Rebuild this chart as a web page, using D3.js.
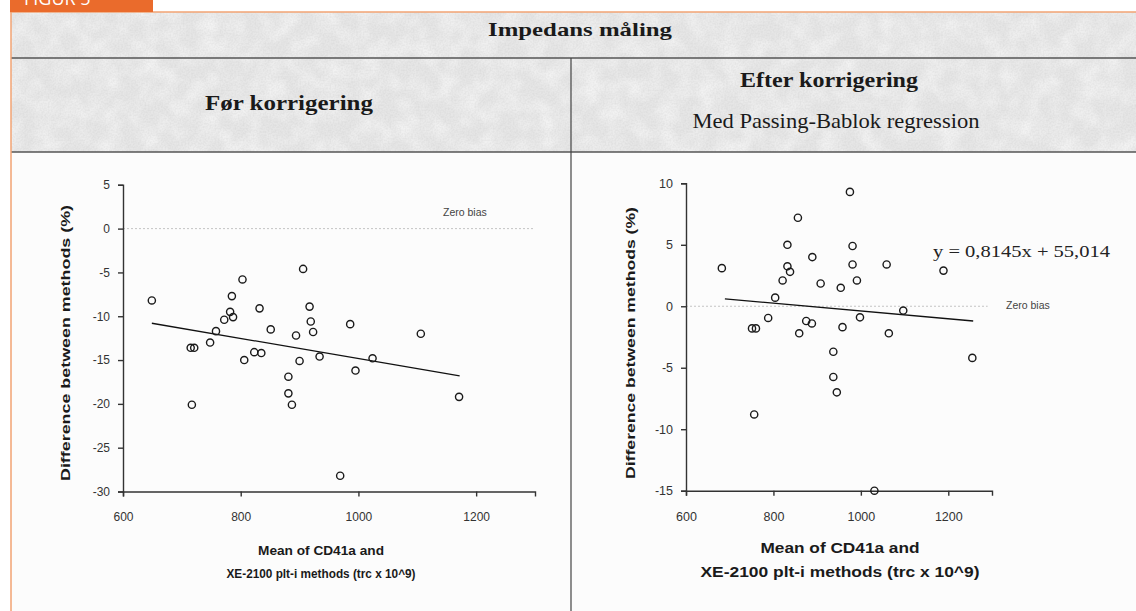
<!DOCTYPE html>
<html>
<head>
<meta charset="UTF-8">
<title>Impedans måling</title>
<script src="https://cdnjs.cloudflare.com/ajax/libs/d3/7.9.0/d3.min.js"></script>
<style>
    body { margin: 0; background: #fff; }
    svg { display: block; }
    .tick text { font-family: "Liberation Sans", Arial, sans-serif; font-size: 12px; fill: #333; }
    .axis path, .axis line { stroke: #333; stroke-width: 1.4; }
</style>
</head>
<body>
<div id="chart"></div>
<script>
// ---- data ----
// left panel: før korrigering
const leftX = [649, 715, 721, 717, 748, 758, 772, 782, 785, 787, 803, 806, 823, 832, 835, 851,
               881, 881, 887, 894, 900, 906, 917, 919, 923, 934, 969, 986, 995, 1024, 1106, 1171];
const leftY = [-8.2, -13.6, -13.6, -20.1, -13.0, -11.7, -10.4, -9.5, -7.7, -10.1, -5.8, -15.0, -14.1, -9.1, -14.2, -11.5,
               -16.9, -18.8, -20.1, -12.2, -15.1, -4.6, -8.9, -10.6, -11.8, -14.6, -28.2, -10.9, -16.2, -14.8, -12.0, -19.2];
const leftFitX = [649, 1172];
const leftFitY = [-10.8, -16.8];
const leftYTicks = [5, 0, -5, -10, -15, -20, -25, -30];

// right panel: efter korrigering
const rightX = [975, 856, 832, 981, 889, 682, 832, 981, 1059, 838, 821, 991, 908, 954, 804, 1189,
                1097, 788, 998, 751, 760, 875, 888, 958, 859, 1064, 937, 937, 945, 756, 1031, 1255];
const rightY = [9.3, 7.2, 5.0, 4.9, 4.0, 3.1, 3.25, 3.4, 3.4, 2.8, 2.1, 2.1, 1.85, 1.5, 0.7, 2.9,
                -0.35, -0.95, -0.9, -1.8, -1.8, -1.2, -1.4, -1.7, -2.2, -2.2, -3.7, -5.75, -7.0, -8.8, -15.0, -4.2];
const rightFitX = [689, 1257];
const rightFitY = [0.6, -1.2];
const rightYTicks = [10, 5, 0, -5, -10, -15];

const xTicks = [600, 800, 1000, 1200];
const yLabel = "Difference between methods (%)";
const xLabel1 = "Mean of CD41a and";
const xLabel2 = "XE-2100 plt-i methods (trc x 10^9)";

// ---- svg ----
const W = 1136, H = 611;
const svg = d3.select("#chart").append("svg")
    .attr("width", W)
    .attr("height", H);

// scanned paper texture
const defs = svg.append("defs");
const flt = defs.append("filter").attr("id", "paper").attr("x", 0).attr("y", 0).attr("width", 1).attr("height", 1);
flt.append("feTurbulence").attr("type", "fractalNoise").attr("baseFrequency", "0.05").attr("numOctaves", 2).attr("seed", 7);
flt.append("feColorMatrix").attr("type", "matrix")
    .attr("values", "0 0 0 0 1  0 0 0 0 1  0 0 0 0 1  1.1 0 0 0 -0.4");
const fltB = defs.append("filter").attr("id", "paperB").attr("x", 0).attr("y", 0).attr("width", 1).attr("height", 1);
fltB.append("feTurbulence").attr("type", "fractalNoise").attr("baseFrequency", "0.6").attr("numOctaves", 1).attr("seed", 2);
fltB.append("feColorMatrix").attr("type", "matrix")
    .attr("values", "0 0 0 0 0.45  0 0 0 0 0.45  0 0 0 0 0.45  0.4 0 0 0 -0.14");

// header bands
svg.append("rect").attr("x", 11).attr("y", 12).attr("width", W - 11).attr("height", 140).attr("fill", "#e6e6e6");
svg.append("rect").attr("x", 11).attr("y", 12).attr("width", W - 11).attr("height", 140).attr("fill", "#fff").attr("filter", "url(#paper)");
svg.append("rect").attr("x", 11).attr("y", 12).attr("width", W - 11).attr("height", 140).attr("fill", "#fff").attr("filter", "url(#paperB)");
svg.append("rect").attr("x", 11).attr("y", 153).attr("width", W - 11).attr("height", H - 153).attr("fill", "#fcfcfc");

// rules
svg.append("line").attr("x1", 11).attr("x2", W).attr("y1", 58).attr("y2", 58).attr("stroke", "#555").attr("stroke-width", 1.6);
svg.append("line").attr("x1", 11).attr("x2", W).attr("y1", 152).attr("y2", 152).attr("stroke", "#555").attr("stroke-width", 1.6);
svg.append("line").attr("x1", 571).attr("x2", 571).attr("y1", 58).attr("y2", H).attr("stroke", "#444").attr("stroke-width", 1.2);

// orange frame and tag
svg.append("line").attr("x1", 10).attr("x2", W).attr("y1", 12).attr("y2", 12).attr("stroke", "#f2a373").attr("stroke-width", 1.5);
svg.append("line").attr("x1", 11).attr("x2", 11).attr("y1", 12).attr("y2", H).attr("stroke", "#f2a373").attr("stroke-width", 1.5);
svg.append("rect").attr("x", 10).attr("y", 0).attr("width", 143).attr("height", 12).attr("fill", "#ea6b2c");
svg.append("text").attr("x", 24).attr("y", 5)
    .style("font-family", "'Open Sans', sans-serif").style("font-size", "18px").attr("fill", "#fff")
    .text("FIGUR 5");

// headings
const serif = "'Liberation Serif', 'Times New Roman', serif";
function heading(txt, x, y, size, bold, len) {
    svg.append("text").attr("x", x).attr("y", y).attr("text-anchor", "middle")
        .style("font-family", serif).style("font-size", size + "px")
        .style("font-weight", bold ? "bold" : "normal").attr("fill", "#1a1a1a")
        .attr("textLength", len).attr("lengthAdjust", "spacingAndGlyphs")
        .text(txt);
}
heading("Impedans måling", 580, 36, 19, true, 184);
heading("Før korrigering", 289, 110, 21, true, 168);
heading("Efter korrigering", 829, 87, 21, true, 178);
heading("Med Passing-Bablok regression", 836, 128, 21, false, 287);

// ---- panels ----
function panel(opt) {
    const x = d3.scaleLinear().domain([600, 1300]).range(opt.xr);
    const y = d3.scaleLinear().domain(opt.yd).range(opt.yr);
    const g = svg.append("g");

    // zero bias reference
    g.append("line")
        .attr("x1", x(600)).attr("x2", x(opt.zeroEnd))
        .attr("y1", y(0)).attr("y2", y(0))
        .attr("stroke", "#c4c4c4").attr("stroke-width", 1).attr("stroke-dasharray", "2,2");
    g.append("text").attr("x", opt.zeroLbl[0]).attr("y", opt.zeroLbl[1])
        .style("font-family", "'Liberation Sans', Arial, sans-serif").style("font-size", "10.5px")
        .attr("fill", "#444").text("Zero bias");

    // axes (plain hyphen minus, like the original)
    g.append("g").attr("class", "axis")
        .attr("transform", "translate(0," + opt.yr[0] + ")")
        .call(d3.axisBottom(x).tickValues(xTicks).tickFormat(d => String(d)).tickSizeOuter(0).tickSize(5).tickPadding(16));
    g.append("g").attr("class", "axis")
        .attr("transform", "translate(" + opt.xr[0] + ",0)")
        .call(d3.axisLeft(y).tickValues(opt.yTicks).tickFormat(d => String(d)).tickSizeOuter(0).tickSize(5).tickPadding(8));
    g.selectAll(".axis .domain").attr("stroke", "#333").attr("stroke-width", 1.5);
    g.selectAll(".tick text").style("font-size", opt.tickFont + "px");

    // fit line
    g.append("path")
        .datum(d3.range(opt.fitX.length))
        .attr("d", d3.line().x(i => x(opt.fitX[i])).y(i => y(opt.fitY[i])))
        .attr("fill", "none").attr("stroke", "#111").attr("stroke-width", 1.3);

    // points
    g.selectAll("circle.pt").data(d3.range(opt.px.length)).join("circle")
        .attr("class", "pt")
        .attr("cx", i => x(opt.px[i]))
        .attr("cy", i => y(opt.py[i]))
        .attr("r", 3.6)
        .attr("fill", "none").attr("stroke", "#1a1a1a").attr("stroke-width", 1.4);

    // axis titles
    const sans = "'Liberation Sans', Arial, sans-serif";
    g.append("text")
        .attr("transform", "translate(" + opt.yLblX + "," + opt.yLblY + ") rotate(-90)")
        .attr("text-anchor", "middle")
        .style("font-family", sans).style("font-weight", "bold").style("font-size", "13px")
        .attr("fill", "#1a1a1a").attr("textLength", opt.yLblLen).attr("lengthAdjust", "spacingAndGlyphs")
        .text(yLabel);
    g.append("text").attr("x", opt.xLblX).attr("y", opt.xLblY[0]).attr("text-anchor", "middle")
        .style("font-family", sans).style("font-weight", "bold").style("font-size", opt.xLblFont + "px")
        .attr("fill", "#1a1a1a").attr("textLength", opt.xLblLen[0]).attr("lengthAdjust", "spacingAndGlyphs")
        .text(xLabel1);
    g.append("text").attr("x", opt.xLblX).attr("y", opt.xLblY[1]).attr("text-anchor", "middle")
        .style("font-family", sans).style("font-weight", "bold").style("font-size", opt.xLblFont + "px")
        .attr("fill", "#1a1a1a").attr("textLength", opt.xLblLen[1]).attr("lengthAdjust", "spacingAndGlyphs")
        .text(xLabel2);
    return g;
}

panel({
    xr: [123, 535], yd: [-30, 5], yr: [491.5, 184.8],
    yTicks: leftYTicks, px: leftX, py: leftY, fitX: leftFitX, fitY: leftFitY,
    zeroEnd: 1300, zeroLbl: [443, 216], tickFont: 12,
    yLblX: 70, yLblY: 343, yLblLen: 276,
    xLblX: 321, xLblY: [555, 578], xLblLen: [126, 189], xLblFont: 13
});

const right = panel({
    xr: [686, 992], yd: [-15, 10], yr: [490.7, 183.3],
    yTicks: rightYTicks, px: rightX, py: rightY, fitX: rightFitX, fitY: rightFitY,
    zeroEnd: 1290, zeroLbl: [1006, 309], tickFont: 12.5,
    yLblX: 635, yLblY: 343, yLblLen: 272,
    xLblX: 840, xLblY: [553, 577], xLblLen: [159, 279], xLblFont: 14
});

// regression equation
right.append("text").attr("x", 933).attr("y", 257)
    .style("font-family", serif).style("font-size", "17px").attr("fill", "#222")
    .attr("textLength", 177).attr("lengthAdjust", "spacingAndGlyphs")
    .text("y = 0,8145x + 55,014");
</script>
</body>
</html>
